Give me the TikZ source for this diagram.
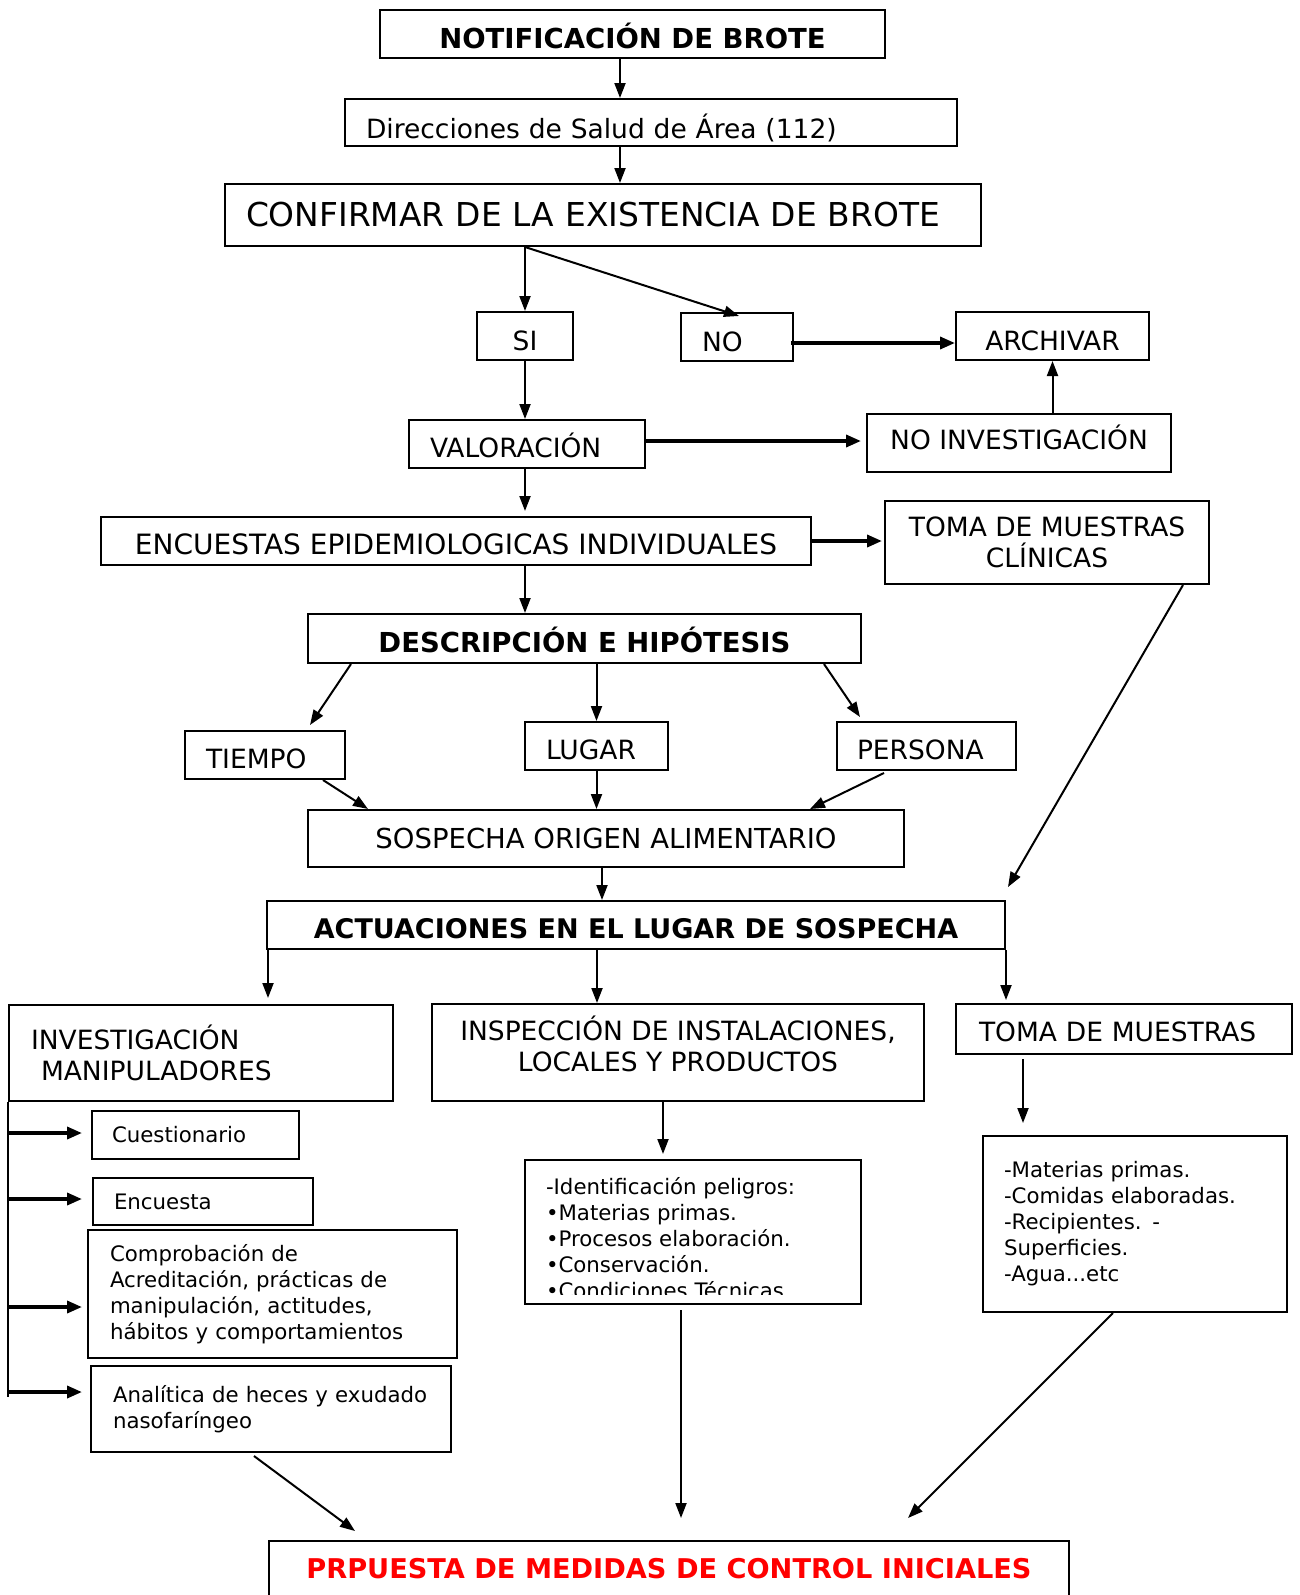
\documentclass[tikz,border=0pt]{standalone}
\usepackage{fontspec}
\setmainfont{DejaVu Sans}
\usetikzlibrary{arrows.meta,calc}
\newcommand\myfs[2]{\fontsize{#1}{#2}\selectfont}
\newcommand\dn[2]{\raisebox{-#1pt}[\height][\depth]{#2}}
\definecolor{propred}{RGB}{255,0,0}
\begin{document}
\begin{tikzpicture}[x=1pt,y=-1pt,
 box/.style={draw, line width=2pt, inner sep=0pt, font=\myfs{26.5}{31}},
 bbox/.style={box, font=\myfs{27.5}{32}\bfseries},
 sbox/.style={box, font=\myfs{21.3}{26}},
 arr/.style={line width=2pt, -{Triangle[length=15pt,width=11pt]}},
 tarr/.style={line width=3.5pt, -{Triangle[length=15pt,width=12pt]}},
 plain/.style={line width=2pt}
]
\useasboundingbox (0,0) rectangle (1300,1595);

% boxes
\node[bbox, minimum width=505pt, minimum height=48pt] (notif) at (632.5,34) {\dn{1.5}{NOTIFICACIÓN DE BROTE}};
\node[box, minimum width=612pt, minimum height=47pt, text width=570pt, inner xsep=21pt, align=left] (dir) at (651,122.5) {\dn{5}{Direcciones de Salud de Área (112)}};
\node[box, font=\myfs{32.9}{38}, minimum width=756pt, minimum height=62pt, text width=714pt, inner xsep=21pt, align=left] (conf) at (603,215) {CONFIRMAR DE LA EXISTENCIA DE BROTE};
\node[box, minimum width=96pt, minimum height=48pt] (si) at (525,336) {\dn{4.5}{SI}};
\node[box, minimum width=112pt, minimum height=48pt, text width=70pt, inner xsep=21pt, align=left] (no) at (737,337) {\dn{4.5}{NO}};
\node[box, minimum width=193pt, minimum height=48pt] (arch) at (1052.5,336) {\dn{4.5}{ARCHIVAR}};
\node[box, minimum width=236pt, minimum height=48pt, text width=194pt, inner xsep=21pt, align=left] (val) at (527,444) {\dn{1.5}{VALORACIÓN}};
\node[box, minimum width=304pt, minimum height=58pt] (noinv) at (1019,443) {\dn{-6}{NO INVESTIGACIÓN}};
\node[box, font=\myfs{28}{32}, minimum width=710pt, minimum height=48pt] (enc) at (456,541) {\dn{3}{ENCUESTAS EPIDEMIOLOGICAS INDIVIDUALES}};
\node[box, minimum width=324pt, minimum height=83pt, align=center] (tomacl) at (1047,542.5) {TOMA DE MUESTRAS\\CLÍNICAS};
\node[bbox, minimum width=553pt, minimum height=49pt] (desc) at (584.5,638.5) {\dn{1.5}{DESCRIPCIÓN E HIPÓTESIS}};
\node[box, minimum width=160pt, minimum height=48pt, text width=118pt, inner xsep=21pt, align=left] (tiempo) at (265,755) {\dn{4}{TIEMPO}};
\node[box, minimum width=143pt, minimum height=48pt, text width=101pt, inner xsep=21pt, align=left] (lugar) at (596.5,746) {\dn{4}{LUGAR}};
\node[box, minimum width=179pt, minimum height=48pt, text width=139pt, inner xsep=20pt, align=left] (persona) at (926.5,746) {\dn{4}{PERSONA}};
\node[box, font=\myfs{27.5}{32}, minimum width=596pt, minimum height=57pt] (sosp) at (606,838.5) {SOSPECHA ORIGEN ALIMENTARIO};
\node[bbox, font=\myfs{27}{32}\bfseries, minimum width=738pt, minimum height=48pt] (actu) at (636,925) {\dn{4}{ACTUACIONES EN EL LUGAR DE SOSPECHA}};
\node[box, minimum width=384pt, minimum height=96pt, text width=340pt, inner xsep=22pt, align=left] (inv) at (201,1053) {INVESTIGACIÓN\\\hspace*{10pt}MANIPULADORES};
\node[box, minimum width=492pt, minimum height=97pt] (insp) at (678,1052.5) {\dn{-4.6}{\begin{tabular}{@{}c@{}}INSPECCIÓN DE INSTALACIONES,\\LOCALES Y PRODUCTOS\end{tabular}}};
\node[box, minimum width=336pt, minimum height=50pt, text width=290pt, inner xsep=23pt, align=left] (toma) at (1124,1029) {\dn{3}{TOMA DE MUESTRAS}};
\node[sbox, minimum width=207pt, minimum height=48pt, text width=167pt, inner xsep=20pt, align=left] (cuest) at (195.5,1135) {Cuestionario};
\node[sbox, minimum width=220pt, minimum height=47pt, text width=178pt, inner xsep=21pt, align=left] (encu) at (203,1201.5) {Encuesta};
\node[sbox, minimum width=369pt, minimum height=128pt, text width=325pt, inner xsep=22pt, align=left] (comp) at (272.5,1294) {Comprobación de\\Acreditación, prácticas de\\manipulación, actitudes,\\hábitos y comportamientos};
\node[sbox, minimum width=360pt, minimum height=86pt, text width=316pt, inner xsep=22pt, align=left] (anal) at (271,1409) {\mbox{Analítica de heces y exudado}\\nasofaríngeo};
\node[sbox, minimum width=304pt, minimum height=176pt, text width=262pt, inner xsep=21pt, align=left] (mat) at (1135,1224) {-Materias primas.\\-Comidas elaboradas.\\-Recipientes. -\\Superficies.\\-Agua...etc};
\node[box, minimum width=336pt, minimum height=144pt] (ident) at (693,1232) {};
\begin{scope}
 \clip (ident.north west) rectangle ($(ident.south east)+(0,-11)$);
 \node[sbox, draw=none, anchor=north west, align=left, inner sep=0pt] (identtxt) at ($(ident.north west)+(21,17)$) {-Identificación peligros:\\•Materias primas.\\•Procesos elaboración.\\•Conservación.\\•Condiciones Técnicas};
\end{scope}
\node[box, font=\myfs{27.2}{32}\bfseries, text=propred, minimum width=800pt, minimum height=56pt] (prop) at (669,1569) {PRPUESTA DE MEDIDAS DE CONTROL INICIALES};

% connectors
\coordinate (a0) at ($(notif.south)+(-12.5,0)$);
\draw[arr] (a0) -- (a0 |- dir.north);
\coordinate (b0) at ($(dir.south)+(-31,0)$);
\draw[arr] (b0) -- (b0 |- conf.north);
\coordinate (c0) at (si.north |- conf.south);
\draw[arr] (c0) -- (si.north);
\draw[arr] (c0) -- ($(no.north)+(2,4)$);
\coordinate (e0) at ($(no.east)+(-3,6)$);
\draw[tarr] (e0) -- (e0 -| arch.west);
\draw[arr] (si.south) -- (si.south |- val.north);
\coordinate (g0) at ($(val.east)+(0,-3)$);
\draw[tarr, shorten >=5pt] (g0) -- (g0 -| noinv.west);
\coordinate (h0) at (arch.south |- noinv.north);
\draw[arr] (h0) -- (arch.south);
\coordinate (i0) at (si.south |- val.south);
\draw[arr, shorten >=5pt] (i0) -- (i0 |- enc.north);
\draw[tarr, shorten >=2pt] (enc.east) -- (enc.east -| tomacl.west);
\coordinate (k0) at (si.south |- enc.south);
\draw[arr] (k0) -- (k0 |- desc.north);
\draw[arr] ($(desc.south west)+(44,0)$) -- ($(tiempo.north)+(45,-5)$);
\draw[arr] (lugar.north |- desc.south) -- (lugar.north);
\draw[arr] ($(desc.south east)+(-38,0)$) -- ($(persona.north west)+(24,-4)$);
\draw[arr] ($(tiempo.south)+(58,0)$) -- ($(sosp.north west)+(61,0)$);
\draw[arr] (lugar.south) -- (lugar.south |- sosp.north);
\draw[arr] ($(persona.south)+(-42.5,2)$) -- ($(sosp.north east)+(-95,0)$);
\coordinate (r0) at ($(sosp.south)+(-4,0)$);
\draw[arr] (r0) -- (r0 |- actu.north);
\draw[arr] ($(tomacl.south east)+(-27,0)$) -- ($(actu.north east)+(2,-13)$);
\coordinate (t0) at ($(actu.south west)+(2,0)$);
\draw[arr, shorten >=6pt] (t0) -- (t0 |- inv.north);
\coordinate (u0) at ($(actu.south)+(-39,0)$);
\draw[arr] (u0) -- (u0 |- insp.north);
\draw[arr, shorten >=3pt] (actu.south east) -- (actu.south east |- toma.north);
\coordinate (w0) at ($(toma.south)+(-101,4)$);
\draw[arr, shorten >=12pt] (w0) -- (w0 |- mat.north);
\coordinate (x0) at ($(insp.south)+(-15,0)$);
\draw[arr, shorten >=5pt] (x0) -- (x0 |- ident.north);
\coordinate (trunk) at ($(inv.south west)+(0,295)$);
\draw[plain] (inv.south west) -- (trunk);
\coordinate (br1) at ($(inv.south west)+(0,31)$);
\coordinate (br2) at ($(inv.south west)+(0,97)$);
\coordinate (br3) at ($(inv.south west)+(0,205)$);
\coordinate (br4) at ($(inv.south west)+(0,290)$);
\draw[tarr, shorten >=9pt] (br1) -- (br1 -| cuest.west);
\draw[tarr, shorten >=10pt] (br2) -- (br2 -| encu.west);
\draw[tarr, shorten >=5pt] (br3) -- (br3 -| comp.west);
\draw[tarr, shorten >=8pt] (br4) -- (br4 -| anal.west);
\draw[arr] ($(ident.south)+(-12,5)$) -- ($(prop.north)+(12,-22)$);
\draw[arr] ($(anal.south)+(-17,3)$) -- ($(prop.north west)+(87,-9)$);
\draw[arr] ($(mat.south)+(-22,0)$) -- ($(prop.north east)+(-162,-22)$);
\end{tikzpicture}
\end{document}
